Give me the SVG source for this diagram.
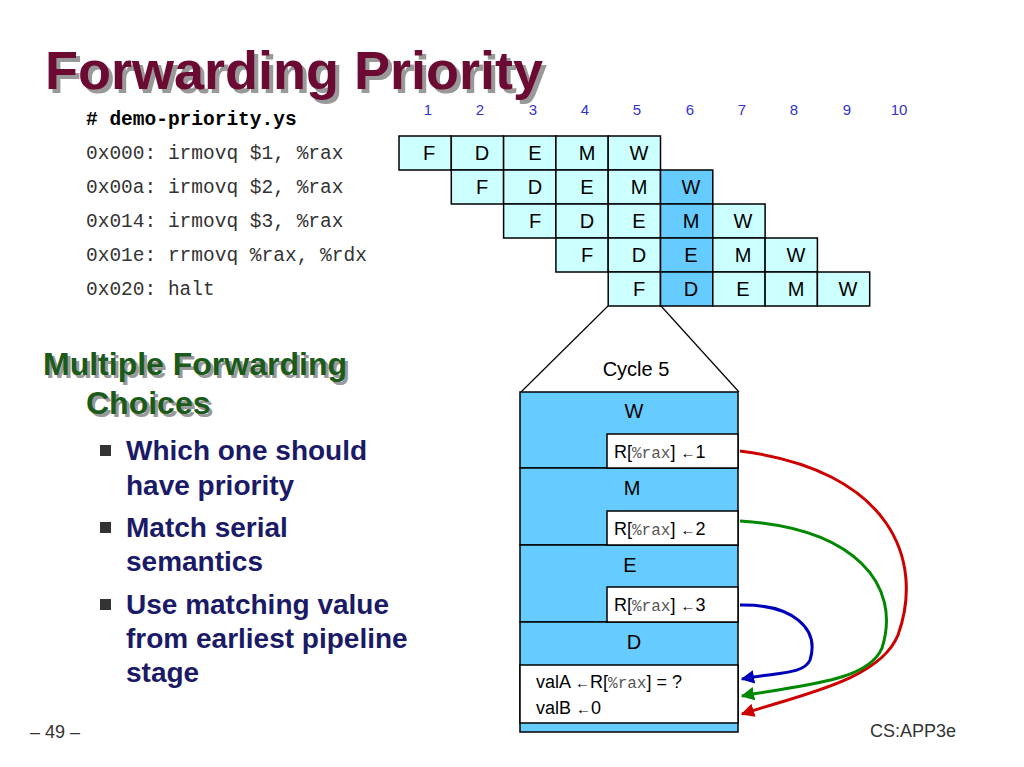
<svg xmlns="http://www.w3.org/2000/svg" width="1024" height="767" viewBox="0 0 1024 767">
<defs>
<style>
.t{font-family:"Liberation Sans",Arial,sans-serif}
.m{font-family:"Liberation Mono","Courier New",monospace}
.cell{fill:#ccffff;stroke:#000;stroke-width:1.5}
.hi{fill:#66ccff;stroke:#000;stroke-width:1.5}
.cl{font-family:"Liberation Sans",Arial,sans-serif;font-size:20px;text-anchor:middle}
.num{font-family:"Liberation Sans",Arial,sans-serif;font-size:15px;fill:#3333cc;text-anchor:middle}
.code{font-family:"Liberation Mono","Courier New",monospace;font-size:19.5px;fill:#333}
.bul{font-family:"Liberation Sans",Arial,sans-serif;font-size:28px;font-weight:bold;fill:#1a1a66}
.stg{fill:#66ccff;stroke:#000;stroke-width:1.5}
.wb{fill:#fff;stroke:#000;stroke-width:1.5}
</style>
<marker id="arR" viewBox="0 0 10 10" refX="9" refY="5" markerWidth="4.5" markerHeight="4.5" orient="auto"><path d="M0,0 L10,5 L0,10 z" fill="#cc0000"/></marker>
<marker id="arG" viewBox="0 0 10 10" refX="9" refY="5" markerWidth="4.5" markerHeight="4.5" orient="auto"><path d="M0,0 L10,5 L0,10 z" fill="#008800"/></marker>
<marker id="arB" viewBox="0 0 10 10" refX="9" refY="5" markerWidth="4.5" markerHeight="4.5" orient="auto"><path d="M0,0 L10,5 L0,10 z" fill="#0000bb"/></marker>
</defs>
<rect width="1024" height="767" fill="#fff"/>
<g id="title" class="t" font-size="54" font-weight="bold">
<text x="49" y="93" fill="#999">Forwarding Priority</text>
<text x="45" y="89" fill="#6b0a33">Forwarding Priority</text>
</g>
<g id="code">
<text x="86" y="125" class="m" font-size="19.5" font-weight="bold">#&#160;demo-priority.ys</text>
<text x="86" y="159" class="code">0x000: irmovq $1, %rax</text>
<text x="86" y="193" class="code">0x00a: irmovq $2, %rax</text>
<text x="86" y="227" class="code">0x014: irmovq $3, %rax</text>
<text x="86" y="261" class="code">0x01e: rrmovq %rax, %rdx</text>
<text x="86" y="295" class="code">0x020: halt</text>
</g>
<g id="cycles">
<text x="428" y="115" class="num">1</text><text x="480" y="115" class="num">2</text><text x="533" y="115" class="num">3</text><text x="585" y="115" class="num">4</text><text x="637" y="115" class="num">5</text><text x="690" y="115" class="num">6</text><text x="742" y="115" class="num">7</text><text x="794" y="115" class="num">8</text><text x="847" y="115" class="num">9</text><text x="899" y="115" class="num">10</text>
</g>
<g id="grid">
<rect x="399" y="136" width="52.3" height="34" class="cell"/><rect x="451.3" y="136" width="52.3" height="34" class="cell"/><rect x="503.6" y="136" width="52.3" height="34" class="cell"/><rect x="555.9" y="136" width="52.3" height="34" class="cell"/><rect x="608.2" y="136" width="52.3" height="34" class="cell"/>
<text x="429" y="160" class="cl">F</text><text x="482" y="160" class="cl">D</text><text x="535" y="160" class="cl">E</text><text x="587" y="160" class="cl">M</text><text x="639" y="160" class="cl">W</text>
<rect x="451.3" y="170" width="52.3" height="34" class="cell"/><rect x="503.6" y="170" width="52.3" height="34" class="cell"/><rect x="555.9" y="170" width="52.3" height="34" class="cell"/><rect x="608.2" y="170" width="52.3" height="34" class="cell"/><rect x="660.5" y="170" width="52.3" height="34" class="hi"/>
<text x="482" y="194" class="cl">F</text><text x="535" y="194" class="cl">D</text><text x="587" y="194" class="cl">E</text><text x="639" y="194" class="cl">M</text><text x="691" y="194" class="cl">W</text>
<rect x="503.6" y="204" width="52.3" height="34" class="cell"/><rect x="555.9" y="204" width="52.3" height="34" class="cell"/><rect x="608.2" y="204" width="52.3" height="34" class="cell"/><rect x="660.5" y="204" width="52.3" height="34" class="hi"/><rect x="712.8" y="204" width="52.3" height="34" class="cell"/>
<text x="535" y="228" class="cl">F</text><text x="587" y="228" class="cl">D</text><text x="639" y="228" class="cl">E</text><text x="691" y="228" class="cl">M</text><text x="743" y="228" class="cl">W</text>
<rect x="555.9" y="238" width="52.3" height="34" class="cell"/><rect x="608.2" y="238" width="52.3" height="34" class="cell"/><rect x="660.5" y="238" width="52.3" height="34" class="hi"/><rect x="712.8" y="238" width="52.3" height="34" class="cell"/><rect x="765.1" y="238" width="52.3" height="34" class="cell"/>
<text x="587" y="262" class="cl">F</text><text x="639" y="262" class="cl">D</text><text x="691" y="262" class="cl">E</text><text x="743" y="262" class="cl">M</text><text x="796" y="262" class="cl">W</text>
<rect x="608.2" y="272" width="52.3" height="34" class="cell"/><rect x="660.5" y="272" width="52.3" height="34" class="hi"/><rect x="712.8" y="272" width="52.3" height="34" class="cell"/><rect x="765.1" y="272" width="52.3" height="34" class="cell"/><rect x="817.4" y="272" width="52.3" height="34" class="cell"/>
<text x="639" y="296" class="cl">F</text><text x="691" y="296" class="cl">D</text><text x="743" y="296" class="cl">E</text><text x="796" y="296" class="cl">M</text><text x="848" y="296" class="cl">W</text>
</g>
<g id="zoomlines" stroke="#000" stroke-width="1.2" fill="none">
<line x1="608" y1="306" x2="521" y2="392"/><line x1="661" y1="306" x2="739" y2="392"/>
</g>
<text x="636" y="376" class="cl">Cycle 5</text>
<g id="pipeline">
<rect x="520" y="392" width="218" height="76" class="stg"/>
<rect x="520" y="468" width="218" height="77" class="stg"/>
<rect x="520" y="545" width="218" height="77" class="stg"/>
<rect x="520" y="622" width="218" height="110" class="stg"/>
<rect x="520" y="665" width="218" height="58" class="wb"/>
<text x="634" y="418" class="cl">W</text><text x="632" y="495" class="cl">M</text><text x="630" y="572" class="cl">E</text><text x="634" y="649" class="cl">D</text>
<rect x="607" y="434" width="131" height="34" class="wb"/>
<rect x="607" y="511" width="131" height="34" class="wb"/>
<rect x="607" y="587" width="131" height="35" class="wb"/>
<text x="614" y="458" class="t" font-size="18">R[<tspan class="m" font-size="16" fill="#555">%rax</tspan>] <tspan font-size="15">←</tspan>1</text>
<text x="614" y="535" class="t" font-size="18">R[<tspan class="m" font-size="16" fill="#555">%rax</tspan>] <tspan font-size="15">←</tspan>2</text>
<text x="614" y="611" class="t" font-size="18">R[<tspan class="m" font-size="16" fill="#555">%rax</tspan>] <tspan font-size="15">←</tspan>3</text>
<text x="536" y="688" class="t" font-size="18">valA <tspan font-size="15">←</tspan>R[<tspan class="m" font-size="16" fill="#555">%rax</tspan>] = ?</text>
<text x="536" y="714" class="t" font-size="18">valB <tspan font-size="15">←</tspan>0</text>
</g>
<g id="connectors" fill="none" stroke-width="3">
<path d="M740,451 C890,470 925,560 898,635 C880,680 800,695 742,714" stroke="#cc0000" marker-end="url(#arR)"/>
<path d="M740,521 C855,528 902,585 882,648 C868,682 800,685 742,696" stroke="#008800" marker-end="url(#arG)"/>
<path d="M740,605 C792,604 820,628 810,660 C804,674 780,672 742,679" stroke="#0000bb" marker-end="url(#arB)"/>
</g>
<g id="left" class="t">
<text x="46" y="378" font-size="32" font-weight="bold" fill="#999">Multiple Forwarding</text>
<text x="43" y="375" font-size="32" font-weight="bold" fill="#1a5a1a">Multiple Forwarding</text>
<text x="89" y="417" font-size="32" font-weight="bold" fill="#999">Choices</text>
<text x="86" y="414" font-size="32" font-weight="bold" fill="#1a5a1a">Choices</text>
<rect x="100" y="445" width="11" height="11" fill="#333"/>
<rect x="100" y="522" width="11" height="11" fill="#333"/>
<rect x="100" y="599" width="11" height="11" fill="#333"/>
<text x="126" y="460" class="bul">Which one should</text>
<text x="126" y="495" class="bul">have priority</text>
<text x="126" y="537" class="bul">Match serial</text>
<text x="126" y="571" class="bul">semantics</text>
<text x="126" y="614" class="bul">Use matching value</text>
<text x="126" y="648" class="bul">from earliest pipeline</text>
<text x="126" y="682" class="bul">stage</text>
</g>
<text x="30" y="738" class="t" font-size="18" fill="#333">– 49 –</text>
<text x="870" y="737" class="t" font-size="18" fill="#333">CS:APP3e</text>
</svg>
